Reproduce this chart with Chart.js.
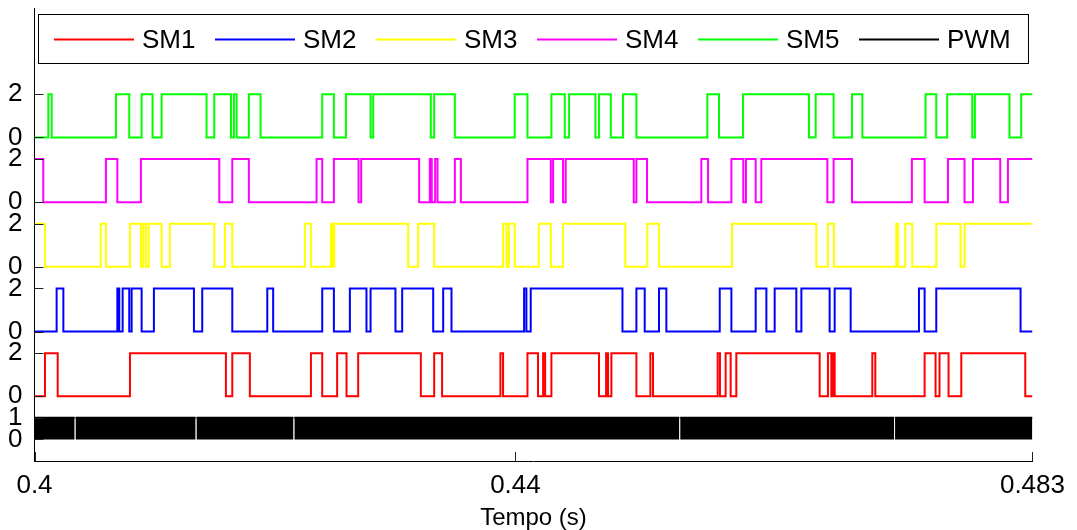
<!DOCTYPE html>
<html>
<head>
<meta charset="utf-8">
<script src="https://cdn.jsdelivr.net/npm/chart.js@4.4.1/dist/chart.umd.min.js"></script>
<style>
  html, body { margin: 0; padding: 0; background: #fff; }
  #wrap { width: 1077px; height: 530px; position: relative; }
</style>
</head>
<body>
<div id="wrap"><canvas id="fig"></canvas></div>
<script>
// ----- dados -----
const xMin = 0.4;
const xMax = 0.483;
const xTicks = [0.4, 0.44, 0.483];
const xTickLabels = ['0.4', '0.44', '0.483'];

// cada sinal empilhado com um deslocamento vertical
const seriesNames = ['SM1', 'SM2', 'SM3', 'SM4', 'SM5', 'PWM'];
const smOffsets = [2, 5, 8, 11, 14];
const smHigh = 2;
const smStartHigh = [0, 0, 1, 1, 0];

const yTicks = [0, 1, 2, 4, 5, 7, 8, 10, 11, 13, 14, 16];
const yTickLabels = ['0', '1', '0', '2', '0', '2', '0', '2', '0', '2', '0', '2'];

// instantes de comutação (s)
const sm1Edges = [0.40087, 0.40193, 0.40794, 0.41592, 0.41645, 0.41791, 0.42299, 0.42393,
  0.42517, 0.42595, 0.42692, 0.43213, 0.43324, 0.43390, 0.43875, 0.43897, 0.44100,
  0.44188, 0.44230, 0.44247, 0.44299, 0.44695, 0.44754, 0.44770, 0.44798, 0.45006,
  0.45122, 0.45144, 0.45682, 0.45701, 0.45748, 0.45790, 0.45837, 0.46530, 0.46599,
  0.46627, 0.46641, 0.46655, 0.46968, 0.46993, 0.47403, 0.47494, 0.47527, 0.47602,
  0.47708, 0.48240];
const sm2Edges = [0.40184, 0.40240, 0.40689, 0.40705, 0.40733, 0.40788, 0.40808, 0.40891,
  0.40993, 0.41326, 0.41395, 0.41645, 0.41936, 0.41985, 0.42393, 0.42490, 0.42623,
  0.42761, 0.42795, 0.43002, 0.43058, 0.43316, 0.43399, 0.43468, 0.44072, 0.44091,
  0.44127, 0.44890, 0.45006, 0.45075, 0.45194, 0.45255, 0.45699, 0.45796, 0.45998,
  0.46087, 0.46156, 0.46336, 0.46378, 0.46613, 0.46655, 0.46788, 0.47356, 0.47403,
  0.47500, 0.48201];
const sm3Edges = [0.40087, 0.40550, 0.40594, 0.40794, 0.40885, 0.40905, 0.40927, 0.40949,
  0.41057, 0.41126, 0.41495, 0.41584, 0.41645, 0.42249, 0.42299, 0.42465, 0.42476,
  0.42493, 0.43108, 0.43191, 0.43324, 0.43897, 0.43925, 0.43945, 0.43994, 0.44194,
  0.44294, 0.44396, 0.44914, 0.45097, 0.45194, 0.45801, 0.46502, 0.46599, 0.46649,
  0.47167, 0.47181, 0.47242, 0.47300, 0.47500, 0.47702, 0.47735];
const sm4Edges = [0.40073, 0.40594, 0.40689, 0.40885, 0.41537, 0.41645, 0.41783, 0.42346,
  0.42393, 0.42490, 0.42695, 0.42717, 0.43199, 0.43288, 0.43304, 0.43332, 0.43352,
  0.43496, 0.43546, 0.44100, 0.44294, 0.44313, 0.44396, 0.44418, 0.44984, 0.45006,
  0.45094, 0.45546, 0.45602, 0.45796, 0.45895, 0.45917, 0.45998, 0.46045, 0.46594,
  0.46646, 0.46799, 0.47297, 0.47403, 0.47597, 0.47735, 0.47805, 0.48032, 0.48096];
const sm5Edges = [0.40115, 0.40143, 0.40678, 0.40788, 0.40891, 0.40982, 0.41057, 0.41431,
  0.41495, 0.41634, 0.41658, 0.41681, 0.41783, 0.41880, 0.42393, 0.42490, 0.42590,
  0.42795, 0.42817, 0.43296, 0.43324, 0.43496, 0.43994, 0.44100, 0.44299, 0.44410,
  0.44446, 0.44665, 0.44695, 0.44793, 0.44895, 0.45006, 0.45596, 0.45693, 0.45893,
  0.46441, 0.46497, 0.46646, 0.46799, 0.46885, 0.47411, 0.47500, 0.47591, 0.47799,
  0.47821, 0.48109, 0.48206];

// PWM: faixa densa entre 0 e 1, com pequenas falhas
const pwmBlocks = [[0.40000, 0.40334], [0.40341, 0.41340], [0.41347, 0.42154],
  [0.42161, 0.45363], [0.45370, 0.47150], [0.47157, 0.48300]];

const colors = ['#ff0000', '#0000ff', '#ffff00', '#ff00ff', '#00ff00', '#000000'];

// ----- montagem -----
function stairs(edges, startHigh, base){
  let level = startHigh;
  const pts = [{x: xMin, y: base + level * smHigh}];
  for (const t of edges) {
    level = 1 - level;
    pts.push({x: t, y: base + level * smHigh});
  }
  pts.push({x: xMax, y: base + level * smHigh});
  return pts;
}

function pwmBand(blocks){
  const pts = [];
  for (const [a, b] of blocks) {
    pts.push({x: a, y: 1}, {x: b, y: 1}, {x: b, y: null});
  }
  return pts;
}

const smEdges = [sm1Edges, sm2Edges, sm3Edges, sm4Edges, sm5Edges];
const datasets = smEdges.map((edges, k) => ({
  label: seriesNames[k],
  data: stairs(edges, smStartHigh[k], smOffsets[k]),
  borderColor: colors[k],
  backgroundColor: colors[k],
  borderWidth: 2,
  stepped: true,
  fill: false,
  pointRadius: 0
}));
datasets.push({
  label: seriesNames[5],
  data: pwmBand(pwmBlocks),
  borderColor: colors[5],
  backgroundColor: colors[5],
  borderWidth: 2,
  fill: {target: {value: 0}},
  spanGaps: false,
  pointRadius: 0
});

const FONT = '"Liberation Sans", Arial, Helvetica, sans-serif';

// marcas de escala para dentro, estilo MATLAB
const inwardTicks = {
  id: 'inwardTicks',
  afterDatasetsDraw(chart){
    const {ctx, chartArea: {left, bottom}, scales: {x, y}} = chart;
    ctx.save();
    ctx.strokeStyle = '#222';
    ctx.lineWidth = 1;
    ctx.beginPath();
    y.ticks.forEach(t => {
      const py = Math.round(y.getPixelForValue(t.value)) + 0.5;
      ctx.moveTo(left, py); ctx.lineTo(left + 9, py);
    });
    x.ticks.forEach(t => {
      const px = Math.round(x.getPixelForValue(t.value)) + 0.5;
      ctx.moveTo(px, bottom); ctx.lineTo(px, bottom - 9);
    });
    ctx.stroke();
    ctx.restore();
  }
};

// legenda em caixa dentro dos eixos
const boxLegend = {
  id: 'boxLegend',
  afterDraw(chart){
    const {ctx} = chart;
    const bx = 38.5, by = 14.5, bw = 990, bh = 49;
    ctx.save();
    ctx.fillStyle = '#fff';
    ctx.fillRect(bx, by, bw, bh);
    ctx.strokeStyle = '#000';
    ctx.lineWidth = 1;
    ctx.strokeRect(bx, by, bw, bh);
    ctx.font = '26px ' + FONT;
    ctx.textBaseline = 'middle';
    ctx.textAlign = 'left';
    chart.data.datasets.forEach((ds, i) => {
      const x0 = 54 + i * 161;
      const yc = 39.5;
      ctx.strokeStyle = ds.borderColor;
      ctx.lineWidth = 2;
      ctx.beginPath();
      ctx.moveTo(x0, yc); ctx.lineTo(x0 + 80, yc);
      ctx.stroke();
      ctx.fillStyle = '#000';
      ctx.fillText(ds.label, x0 + 88, yc + 1);
    });
    ctx.restore();
  }
};

new Chart(document.getElementById('fig'), {
  type: 'line',
  data: { datasets },
  plugins: [inwardTicks, boxLegend],
  options: {
    responsive: true,
    maintainAspectRatio: false,
    animation: false,
    layout: { padding: { left: 0, right: 44, top: 8, bottom: 0 } },
    plugins: {
      legend: { display: false },
      tooltip: { enabled: false }
    },
    scales: {
      x: {
        type: 'linear',
        min: xMin,
        max: xMax,
        grid: { display: false, drawTicks: false },
        border: { display: true, color: '#000', width: 1 },
        afterBuildTicks: s => { s.ticks = xTicks.map(v => ({value: v})); },
        afterFit: s => { s.height = 69; },
        ticks: {
          autoSkip: false,
          maxRotation: 0,
          padding: 12,
          color: '#000',
          font: { family: FONT, size: 26, lineHeight: 1 },
          callback: (v, i) => xTickLabels[i]
        },
        title: {
          display: true,
          text: 'Tempo (s)',
          color: '#000',
          font: { family: FONT, size: 24, lineHeight: 1 },
          padding: { top: 0, bottom: 0 }
        }
      },
      y: {
        type: 'linear',
        min: -1,
        max: 20,
        grid: { display: false, drawTicks: false },
        border: { display: true, color: '#000', width: 1 },
        afterBuildTicks: s => { s.ticks = yTicks.map(v => ({value: v})); },
        afterFit: s => { s.width = 34.5; s.paddingTop = 0; s.paddingBottom = 0; },
        ticks: {
          autoSkip: false,
          padding: 12,
          color: '#000',
          font: { family: FONT, size: 26, lineHeight: 1 },
          callback: (v, i) => yTickLabels[i]
        }
      }
    }
  }
});
</script>
</body>
</html>
